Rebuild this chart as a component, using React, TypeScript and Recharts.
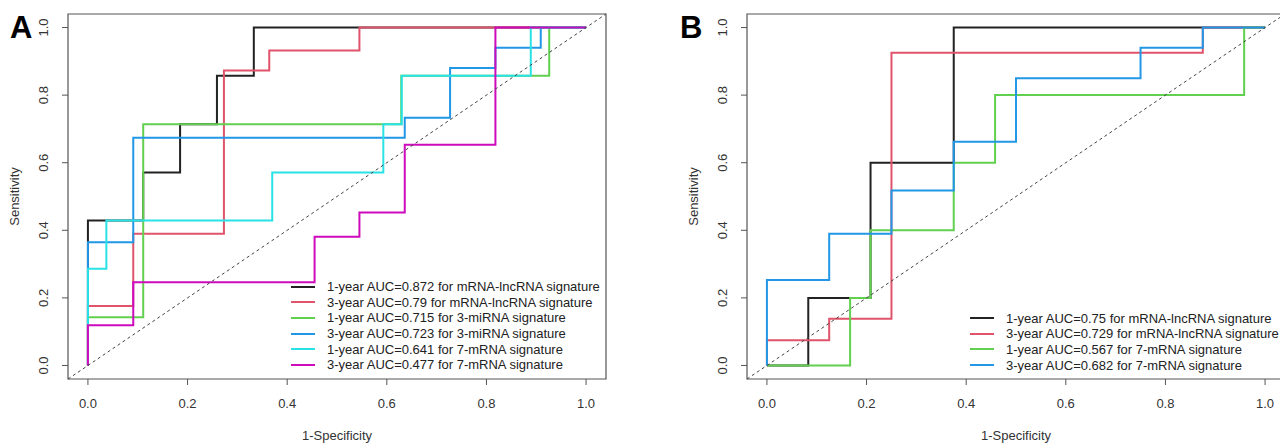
import React from 'react';
import { LineChart, Line, XAxis, YAxis, ReferenceArea, ReferenceLine } from 'recharts';

const FONT = '"Liberation Sans", Arial, Helvetica, sans-serif';
const X_TICKS = [0, 0.2, 0.4, 0.6, 0.8, 1.0];
const DOMAIN: [number, number] = [-0.04, 1.04];

// Panel A: ROC coordinates (1-specificity, sensitivity)
const aBlackFpr = [0, 0, 0.111, 0.111, 0.185, 0.185, 0.259, 0.259, 0.333, 0.333, 1];
const aBlackTpr = [0, 0.429, 0.429, 0.571, 0.571, 0.714, 0.714, 0.857, 0.857, 1, 1];
const aRedFpr = [0, 0, 0.091, 0.091, 0.273, 0.273, 0.364, 0.364, 0.545, 0.545, 1];
const aRedTpr = [0, 0.176, 0.176, 0.39, 0.39, 0.873, 0.873, 0.932, 0.932, 1, 1];
const aGreenFpr = [0, 0, 0.111, 0.111, 0.629, 0.629, 0.926, 0.926, 1];
const aGreenTpr = [0, 0.143, 0.143, 0.714, 0.714, 0.857, 0.857, 1, 1];
const aBlueFpr = [0, 0, 0.091, 0.091, 0.636, 0.636, 0.727, 0.727, 0.818, 0.818, 0.909, 0.909, 1];
const aBlueTpr = [0, 0.365, 0.365, 0.674, 0.674, 0.733, 0.733, 0.88, 0.88, 0.94, 0.94, 1, 1];
const aCyanFpr = [0, 0, 0.037, 0.037, 0.37, 0.37, 0.593, 0.593, 0.63, 0.63, 0.889, 0.889, 1];
const aCyanTpr = [0, 0.286, 0.286, 0.429, 0.429, 0.571, 0.571, 0.714, 0.714, 0.857, 0.857, 1, 1];
const aMagentaFpr = [0, 0, 0.091, 0.091, 0.455, 0.455, 0.545, 0.545, 0.636, 0.636, 0.818, 0.818, 1];
const aMagentaTpr = [0, 0.119, 0.119, 0.246, 0.246, 0.381, 0.381, 0.453, 0.453, 0.653, 0.653, 1, 1];
const aLabels = [
  '1-year AUC=0.872 for mRNA-lncRNA signature',
  '3-year AUC=0.79 for mRNA-lncRNA signature',
  '1-year AUC=0.715 for 3-miRNA signature',
  '3-year AUC=0.723 for 3-miRNA signature',
  '1-year AUC=0.641 for 7-mRNA signature',
  '3-year AUC=0.477 for 7-mRNA signature',
];

// Panel B
const bBlackFpr = [0, 0.083, 0.083, 0.208, 0.208, 0.375, 0.375, 1];
const bBlackTpr = [0, 0, 0.2, 0.2, 0.6, 0.6, 1, 1];
const bRedFpr = [0, 0, 0.125, 0.125, 0.25, 0.25, 0.875, 0.875, 1];
const bRedTpr = [0, 0.075, 0.075, 0.138, 0.138, 0.925, 0.925, 1, 1];
const bGreenFpr = [0, 0.167, 0.167, 0.208, 0.208, 0.375, 0.375, 0.458, 0.458, 0.958, 0.958, 1];
const bGreenTpr = [0, 0, 0.2, 0.2, 0.4, 0.4, 0.6, 0.6, 0.8, 0.8, 1, 1];
const bBlueFpr = [0, 0, 0.125, 0.125, 0.25, 0.25, 0.375, 0.375, 0.5, 0.5, 0.75, 0.75, 0.875, 0.875, 1];
const bBlueTpr = [0, 0.253, 0.253, 0.39, 0.39, 0.518, 0.518, 0.662, 0.662, 0.85, 0.85, 0.94, 0.94, 1, 1];
const bLabels = [
  '1-year AUC=0.75 for mRNA-lncRNA signature',
  '3-year AUC=0.729 for mRNA-lncRNA signature',
  '1-year AUC=0.567 for 7-mRNA signature',
  '3-year AUC=0.682 for 7-mRNA signature',
];

const COLORS = ['#222222', '#DF536B', '#61D04F', '#2297E6', '#28E2E5', '#CD0BBC'];

const toPoints = (fpr: number[], tpr: number[]) => fpr.map((x, i) => ({ x, y: tpr[i] }));

const aCurves = [
  toPoints(aBlackFpr, aBlackTpr),
  toPoints(aRedFpr, aRedTpr),
  toPoints(aGreenFpr, aGreenTpr),
  toPoints(aBlueFpr, aBlueTpr),
  toPoints(aCyanFpr, aCyanTpr),
  toPoints(aMagentaFpr, aMagentaTpr),
];
const bCurves = [
  toPoints(bBlackFpr, bBlackTpr),
  toPoints(bRedFpr, bRedTpr),
  toPoints(bGreenFpr, bGreenTpr),
  toPoints(bBlueFpr, bBlueTpr),
];

const YTick = (props: any) => {
  const { x, y, payload } = props;
  return (
    <text x={x} y={y} transform={`rotate(-90 ${x} ${y})`} textAnchor="middle" fontSize={13} fill="#333" fontFamily={FONT}>
      {Number(payload.value).toFixed(1)}
    </text>
  );
};

type PanelProps = {
  left: number;
  width: number;
  yAxisWidth: number;
  marginRight: number;
  curves: { x: number; y: number }[][];
  labels: string[];
  legendLeft: number;
  legendTop: number;
  ylabelOffset: number;
};

const RocPanel = ({ left, width, yAxisWidth, marginRight, curves, labels, legendLeft, legendTop, ylabelOffset }: PanelProps) => (
  <div style={{ position: 'absolute', left, top: 0, width, height: 443 }}>
    <LineChart width={width} height={443} margin={{ top: 14, right: marginRight, bottom: 0, left: 0 }}>
      <XAxis
        type="number"
        dataKey="x"
        domain={DOMAIN}
        ticks={X_TICKS}
        allowDataOverflow
        tickFormatter={(v: number) => v.toFixed(1)}
        axisLine={false}
        tickLine={{ stroke: '#555' }}
        tickSize={6}
        tickMargin={14}
        height={64}
        tick={{ fontSize: 13, fill: '#333', fontFamily: FONT }}
        label={{ value: '1-Specificity', position: 'insideBottom', offset: 3, fontSize: 13, fill: '#333', fontFamily: FONT }}
      />
      <YAxis
        type="number"
        domain={DOMAIN}
        ticks={X_TICKS}
        allowDataOverflow
        axisLine={false}
        tickLine={{ stroke: '#555' }}
        tickSize={6}
        tickMargin={14}
        width={yAxisWidth}
        tick={<YTick />}
        label={{ value: 'Sensitivity', angle: -90, position: 'insideLeft', offset: ylabelOffset, fontSize: 13, fill: '#333', fontFamily: FONT, style: { textAnchor: 'middle' } }}
      />
      <ReferenceArea x1={-0.04} x2={1.04} y1={-0.04} y2={1.04} fill="none" fillOpacity={0} stroke="#555" strokeWidth={1.2} />
      {curves.map((pts, i) => (
        <Line
          key={i}
          data={pts}
          dataKey="y"
          type="linear"
          stroke={COLORS[i]}
          strokeWidth={2}
          dot={false}
          activeDot={false}
          isAnimationActive={false}
        />
      ))}
      <ReferenceLine segment={[{ x: -0.04, y: -0.04 }, { x: 1.04, y: 1.04 }]} stroke="#444" strokeDasharray="3 3" strokeWidth={1} />
    </LineChart>
    <div style={{ position: 'absolute', left: legendLeft, top: legendTop, fontFamily: FONT, fontSize: 13, color: '#222' }}>
      {labels.map((lab, i) => (
        <div key={i} style={{ display: 'flex', alignItems: 'center', height: 15.6, whiteSpace: 'nowrap' }}>
          <span style={{ display: 'inline-block', width: 24, height: 2, background: COLORS[i], marginRight: 12 }} />
          <span>{lab}</span>
        </div>
      ))}
    </div>
  </div>
);

export default function App() {
  return (
    <div style={{ position: 'absolute', left: 0, top: 0, width: 1280, height: 443, overflow: 'hidden', background: '#fff' }}>
      <RocPanel left={0} width={640} yAxisWidth={68} marginRight={34} curves={aCurves} labels={aLabels} legendLeft={291} legendTop={279} ylabelOffset={14} />
      <RocPanel left={640} width={660} yAxisWidth={107} marginRight={15} curves={bCurves} labels={bLabels} legendLeft={330} legendTop={310.5} ylabelOffset={53} />
      <svg width={1280} height={443} style={{ position: 'absolute', left: 0, top: 0, pointerEvents: 'none' }}>
        <text x={10} y={38} fontSize={31} fontWeight="bold" fontFamily={FONT} fill="#000">A</text>
        <text x={680} y={38} fontSize={31} fontWeight="bold" fontFamily={FONT} fill="#000">B</text>
      </svg>
    </div>
  );
}
